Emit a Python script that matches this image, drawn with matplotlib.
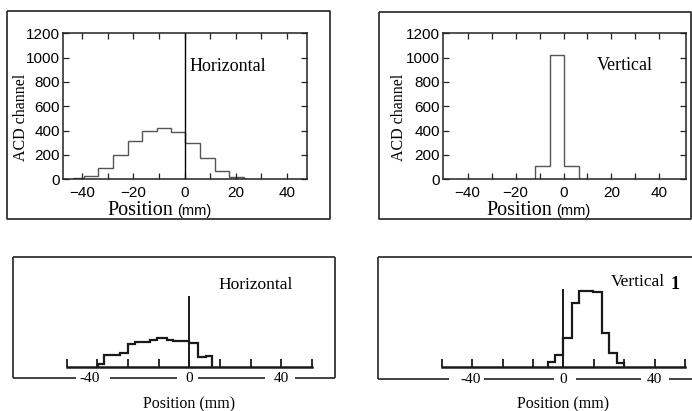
import numpy as np
import matplotlib
matplotlib.use("Agg")
import matplotlib.pyplot as plt
import matplotlib.transforms as mtransforms

# ---------------- data ----------------
# top-left: horizontal profile (ACD channel)
h_top_edges = [-43.4, -39.3, -33.7, -27.8, -22.2, -16.5, -10.8, -5.4, 0.2, 6.0, 11.9, 17.5, 23.0]
h_top_values = [8, 30, 90, 200, 317, 400, 418, 390, 300, 177, 70, 15]
# top-right: vertical profile (ACD channel)
v_top_edges = [-11.8, -5.6, 0.3, 6.6]
v_top_values = [110, 1020, 110]
# bottom-left: horizontal profile (arbitrary units)
h_bot_edges = [-39.8, -37.0, -30.1, -26.8, -23.6, -17.1, -14.2, -9.8, -7.0, 0.0, 3.9, 7.1, 10.0]
h_bot_values = [2.7, 11.7, 13.4, 22.7, 25.0, 26.7, 28.4, 26.7, 25.7, 23.4, 9.4, 11.0]
h_bot_zero_marker = 70
# bottom-right: vertical profile (arbitrary units)
v_bot_edges = [-6.6, -3.6, 0.0, 3.7, 7.0, 13.1, 16.8, 20.1, 23.4, 26.6]
v_bot_values = [4.4, 11.7, 28.4, 63.4, 75.7, 74.4, 33.4, 13.4, 3.4]
v_bot_zero_marker = 77

top_xticks = [-40, -20, 0, 20, 40]
top_yticks = [0, 200, 400, 600, 800, 1000, 1200]
bot_ticklabels = ["-40", "0", "40"]
bot_tickvalues = [-40, 0, 40]

# ---------------- layout ----------------
W, H = 692, 411
fig = plt.figure(figsize=(W / 100, H / 100), dpi=100)

SERIF = ["Liberation Serif", "DejaVu Serif"]
SANS = ["Liberation Sans", "DejaVu Sans"]

ov = fig.add_axes([0, 0, 1, 1], zorder=0)
ov.set_xlim(0, W)
ov.set_ylim(H, 0)
ov.axis("off")

def px_axes(l, t, r, b):
    a = fig.add_axes([l / W, 1 - b / H, (r - l) / W, (b - t) / H], zorder=1)
    a.patch.set_alpha(0)
    return a

def line(xs, ys, lw=1.2, c="#222222"):
    ov.plot(xs, ys, color=c, lw=lw, solid_capstyle="butt")

def rect(l, t, r, b, lw=1.2):
    line([l, r, r, l, l], [t, t, b, b, t], lw=lw)

# outer boxes for top panels
rect(7, 11, 330, 219)
rect(379.3, 12.3, 691, 219)

# outer boxes for bottom panels (bottom edge broken by labels)
def open_box(l, t, r, b, gaps, right=True):
    line([l, r], [t, t])
    line([l, l], [t, b])
    if right:
        line([r, r], [t, b])
    xs = [l] + [g for gap in gaps for g in gap] + [r]
    for i in range(0, len(xs), 2):
        line([xs[i], xs[i + 1]], [b, b])

open_box(13.3, 257.3, 335, 378.3, [(76, 110), (177, 198), (265, 295)])
open_box(377.7, 257.3, 695, 379.3, [(449.3, 484.3), (554.3, 576), (641, 669.3)], right=False)

# ---------------- top panels ----------------
def top_panel(ax, edges, values, xlim, label, lx, ly, zero_line, ylab_x):
    ax.stairs(values, edges, color="#555555", lw=1.0, baseline=0)
    if zero_line:
        ax.axvline(0, color="black", lw=1.0)
    ax.set_xlim(*xlim)
    ax.set_ylim(0, 1200)
    ax.set_xticks(np.arange(-40, 41, 10))
    ax.set_xticklabels([str(v).replace("-", "\u2212") if v in top_xticks else "" for v in range(-40, 41, 10)],
                       family=SANS, fontsize=11)
    ax.set_yticks(top_yticks)
    ax.set_yticklabels([str(v) for v in top_yticks], family=SANS, fontsize=11)
    ax.tick_params(direction="in", top=True, right=True, length=4, width=0.9, color="#222222")
    ax.tick_params(axis="x", pad=5)
    ax.tick_params(axis="y", pad=2)
    for s in ax.spines.values():
        s.set_linewidth(1.1)
        s.set_color("#222222")
    ax.set_ylabel("ACD channel", family=SERIF, fontsize=11.5, va="center")
    ax.yaxis.set_label_coords(ylab_x, 0.423)
    ov.text(lx, ly, label, family=SERIF, fontsize=13, ha="left", va="center")

ax1 = px_axes(63, 33.3, 307, 179.3)
top_panel(ax1, h_top_edges, h_top_values, (-47.5, 47.8), "Horizontal", 190, 66.7, True, (20.7 - 63) / 244)
ax2 = px_axes(442.7, 33.3, 686, 179.3)
top_panel(ax2, v_top_edges, v_top_values, (-50.4, 51.1), "Vertical", 596.7, 65.7, False, (399.3 - 442.7) / 243.3)

for px, py in [(107, 215), (486, 215)]:
    t = ov.text(px, py, "Position", family=SERIF, fontsize=14.5, ha="left", va="baseline")
    ov.text(px + 70, py, "(mm)", family=SANS, fontsize=10.5, ha="left", va="baseline")

# ---------------- bottom panels ----------------
def bottom_panel(ax, edges, values, zero_h, label, lx, ly, box_bottom_px, dx40, extra=None):
    ax.stairs(values, edges, color="#1a1a1a", lw=1.6, baseline=0)
    ax.plot([0, 0], [0, zero_h], color="#1a1a1a", lw=1.4)
    ax.set_xlim(-53.2, 53.4)
    ax.set_ylim(0, 109.4)
    for k in ["top", "left", "right"]:
        ax.spines[k].set_visible(False)
    ax.spines["bottom"].set_linewidth(1.8)
    ax.spines["bottom"].set_color("#1a1a1a")
    ax.set_yticks([])
    ax.set_xticks(np.arange(-4, 5) * 40 / 3)
    ax.set_xticklabels([])
    ax.tick_params(axis="x", direction="in", length=6, width=1.3, color="#1a1a1a")
    tr = mtransforms.blended_transform_factory(ax.transData, fig.transFigure)
    for lab, v in zip(bot_ticklabels, bot_tickvalues):
        xx = v + (dx40 if v == -40 else 0)
        ax.text(xx, 1 - box_bottom_px / H, lab, transform=tr, family=SERIF,
                fontsize=11, ha="center", va="center")
    ax.text(0, 1 - 404 / H, "Position (mm)", transform=tr, family=SERIF,
            fontsize=11.5, ha="center", va="center")
    ov.text(lx, ly, label, family=SERIF, fontsize=12.5, ha="left", va="center")
    if extra:
        ov.text(extra[0], extra[1], extra[2], family=SERIF, fontsize=13, fontweight="bold",
                ha="left", va="center")

ax3 = px_axes(66.7, 257.3, 312.3, 366.7)
bottom_panel(ax3, h_bot_edges, h_bot_values, h_bot_zero_marker, "Horizontal", 218, 285, 378.3, -3.4)
ax4 = px_axes(441.7, 257.3, 685.3, 366.7)
bottom_panel(ax4, v_bot_edges, v_bot_values, v_bot_zero_marker, "Vertical", 611, 282, 379.3, -0.9,
             extra=(671, 284, "1"))

fig.savefig("out.png", dpi=100)
